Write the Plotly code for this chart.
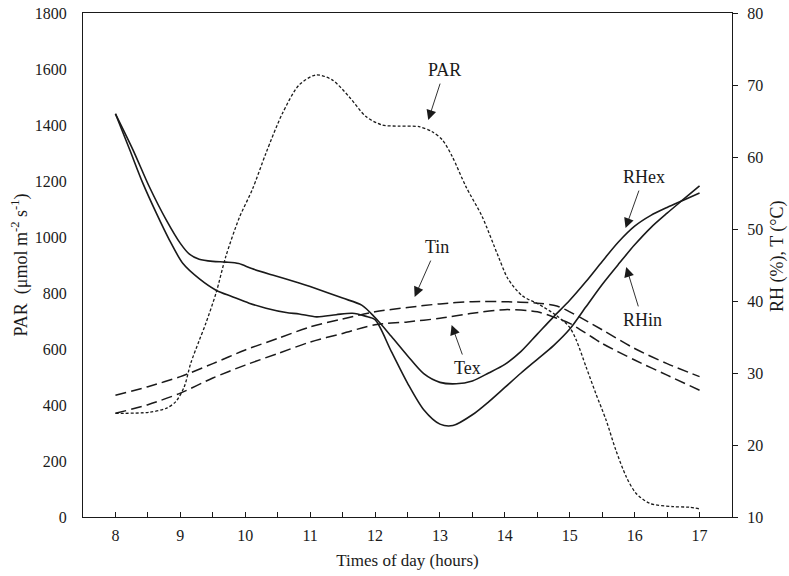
import plotly.graph_objects as go

# ---------------- data ----------------
par_hours = [8.0, 8.52, 8.78, 8.93, 9.06, 9.16, 9.29, 9.39, 9.55, 9.7, 9.91, 10.11, 10.32,
             10.57, 10.83, 11.09, 11.34, 11.6, 11.86, 12.11, 12.37, 12.68, 12.88, 13.04,
             13.19, 13.4, 13.65, 13.9, 14.05, 14.27, 14.52, 14.78, 14.99, 15.1, 15.25,
             15.4, 15.56, 15.71, 15.87, 16.02, 16.23, 16.59, 16.84, 17.0]
par_values = [370, 374, 388, 412, 465, 549, 630, 690, 800, 930, 1070, 1170, 1300,
              1440, 1543, 1579, 1561, 1501, 1430, 1400, 1396, 1394, 1376, 1346,
              1287, 1180, 1073, 930, 850, 790, 760, 722, 680, 632, 537,
              442, 346, 239, 144, 85, 49, 37, 35, 29]

rhex_hours = [8.0, 8.27, 8.52, 8.78, 9.0, 9.14, 9.29, 9.5, 9.7, 9.9, 10.1, 10.42, 10.83,
              11.0, 11.5, 11.8, 12.0, 12.25, 12.5, 12.75, 13.0, 13.25, 13.5, 13.75, 14.0,
              14.25, 14.5, 14.75, 15.0, 15.25, 15.5, 15.75, 16.0, 16.25, 16.5, 16.75, 17.0]
rhex_values = [66.0, 61.0, 55.9, 51.3, 48.0, 46.5, 45.8, 45.5, 45.4, 45.2, 44.5, 43.6, 42.5,
               42.0, 40.4, 39.4, 37.7, 35.1, 32.4, 29.9, 28.7, 28.5, 28.9, 30.0, 31.2,
               33.0, 35.4, 37.8, 40.1, 42.7, 45.5, 48.2, 50.4, 51.9, 53.0, 54.0, 55.0]

rhin_hours = [8.0, 8.22, 8.42, 8.63, 8.83, 9.04, 9.29, 9.55, 9.8, 10.06, 10.32, 10.63, 10.83,
              11.1, 11.4, 11.65, 11.85, 12.0, 12.25, 12.5, 12.75, 13.0, 13.2, 13.5, 13.75,
              14.0, 14.25, 14.5, 14.75, 15.0, 15.25, 15.5, 15.75, 16.0, 16.25, 16.5, 16.75,
              17.0]
rhin_values = [66.0, 61.0, 56.4, 52.2, 48.5, 45.2, 43.1, 41.5, 40.6, 39.7, 39.0, 38.4, 38.2,
               37.8, 38.1, 38.3, 37.9, 37.4, 33.0, 28.6, 24.9, 22.9, 22.7, 24.2, 26.0,
               28.0, 30.0, 31.9, 33.8, 36.1, 39.2, 42.3, 45.1, 47.8, 50.2, 52.2, 54.1,
               56.0]

temp_hours = [8, 8.5, 9, 9.5, 10, 10.5, 11, 11.5, 12, 12.5, 13, 13.5, 14, 14.5, 14.8,
              15, 15.5, 16, 16.5, 17]
tin_values = [26.9, 28.1, 29.5, 31.3, 33.2, 34.8, 36.4, 37.5, 38.5, 39.1, 39.6, 39.9, 39.9,
              39.7, 39.3, 38.5, 36.0, 33.4, 31.3, 29.5]
tex_values = [24.4, 25.6, 27.2, 29.3, 31.1, 32.7, 34.3, 35.5, 36.7, 37.1, 37.6, 38.3, 38.8,
              38.5, 37.6, 36.9, 34.1, 31.8, 29.7, 27.6]

x_tickvals = [8, 9, 10, 11, 12, 13, 14, 15, 16, 17]
x_ticktext = ["8", "9", "10", "11", "12", "13", "14", "15", "16", "17"]

# curve labels (hours / PAR units) and the points their arrows point to
label_texts = ["PAR", "Tin", "RHex", "RHin", "Tex"]
label_x = [13.07, 12.95, 16.14, 16.12, 13.42]
label_y = [1596, 964, 1214, 704, 532]
arrow_head_x = [12.82, 12.61, 15.86, 15.87, 13.18]
arrow_head_y = [1418, 786, 1032, 893, 686]

# ---------------- figure ----------------
FONT = "Liberation Serif"
INK = "#1a1a1a"

fig = go.Figure()
fig.add_trace(go.Scatter(x=par_hours, y=par_values, mode="lines", name="PAR",
                         line=dict(color=INK, width=1.3, dash="3px,2px", shape="spline",
                                   smoothing=0.8), yaxis="y"))
fig.add_trace(go.Scatter(x=rhex_hours, y=rhex_values, mode="lines", name="RHex",
                         line=dict(color=INK, width=1.6, shape="spline", smoothing=0.8),
                         yaxis="y2"))
fig.add_trace(go.Scatter(x=rhin_hours, y=rhin_values, mode="lines", name="RHin",
                         line=dict(color=INK, width=1.6, shape="spline", smoothing=0.8),
                         yaxis="y2"))
fig.add_trace(go.Scatter(x=temp_hours, y=tin_values, mode="lines", name="Tin",
                         line=dict(color=INK, width=1.5, dash="11px,5px", shape="spline",
                                   smoothing=0.8), yaxis="y2"))
fig.add_trace(go.Scatter(x=temp_hours, y=tex_values, mode="lines", name="Tex",
                         line=dict(color=INK, width=1.5, dash="11px,5px", shape="spline",
                                   smoothing=0.8), yaxis="y2"))

annotations = []
for t, lx, ly, hx, hy in zip(label_texts, label_x, label_y, arrow_head_x, arrow_head_y):
    annotations.append(dict(x=hx, y=hy, ax=lx, ay=ly, xref="x", yref="y", axref="x",
                            ayref="y", text=t, showarrow=True, arrowhead=2, arrowsize=2.2,
                            arrowwidth=0.9, arrowcolor=INK, borderpad=3,
                            font=dict(family=FONT, size=18, color=INK)))
# right axis title
annotations.append(dict(x=1.071, y=0.518, xref="paper", yref="paper",
                        text="RH (%), T (\u00b0C)", textangle=-90, showarrow=False,
                        xanchor="center", yanchor="middle",
                        font=dict(family=FONT, size=18, color=INK)))

fig.update_layout(
    width=789, height=576,
    margin=dict(l=83, r=57, t=13, b=59, autoexpand=False),
    paper_bgcolor="white", plot_bgcolor="white",
    showlegend=False,
    font=dict(family=FONT, size=16, color=INK),
    annotations=annotations,
    xaxis=dict(range=[7.5, 17.5], tickvals=x_tickvals, ticktext=x_ticktext,
               ticks="inside", ticklen=5, tickwidth=1, tickcolor=INK, automargin=False,
               minor=dict(dtick=0.5, tick0=8, ticks="inside", ticklen=5, tickwidth=1,
                          tickcolor=INK, showgrid=False),
               showline=True, linecolor=INK, linewidth=1.3, mirror=True,
               showgrid=False, zeroline=False, ticklabelstandoff=4,
               tickfont=dict(family=FONT, size=16, color=INK),
               title=dict(text="Times of day (hours)", standoff=10,
                          font=dict(family=FONT, size=17, color=INK))),
    yaxis=dict(range=[0, 1800], dtick=200, ticks="", showline=True, linecolor=INK,
               linewidth=1.3, showgrid=False, zeroline=False, ticklabelstandoff=12,
               automargin=False, ticklabeloverflow="allow",
               tickfont=dict(family=FONT, size=16, color=INK),
               title=dict(text="PAR&nbsp;&nbsp;(\u03bcmol m<sup>-2</sup> s<sup>-1</sup>)",
                          standoff=2, font=dict(family=FONT, size=18, color=INK))),
    yaxis2=dict(range=[10, 80], dtick=10, overlaying="y", side="right", ticks="outside",
                ticklen=5, tickwidth=1, tickcolor=INK, showline=True, linecolor=INK,
                linewidth=1.3, showgrid=False, zeroline=False, ticklabelstandoff=6,
                automargin=False, ticklabeloverflow="allow",
                tickfont=dict(family=FONT, size=16, color=INK)),
)

# remove the browser's default 8 px body margin so the figure fills the window exactly
fig.write_html("out.html",
               config={"displayModeBar": False},
               post_script="document.body.style.margin='0';"
                           "document.body.style.overflow='hidden';")
